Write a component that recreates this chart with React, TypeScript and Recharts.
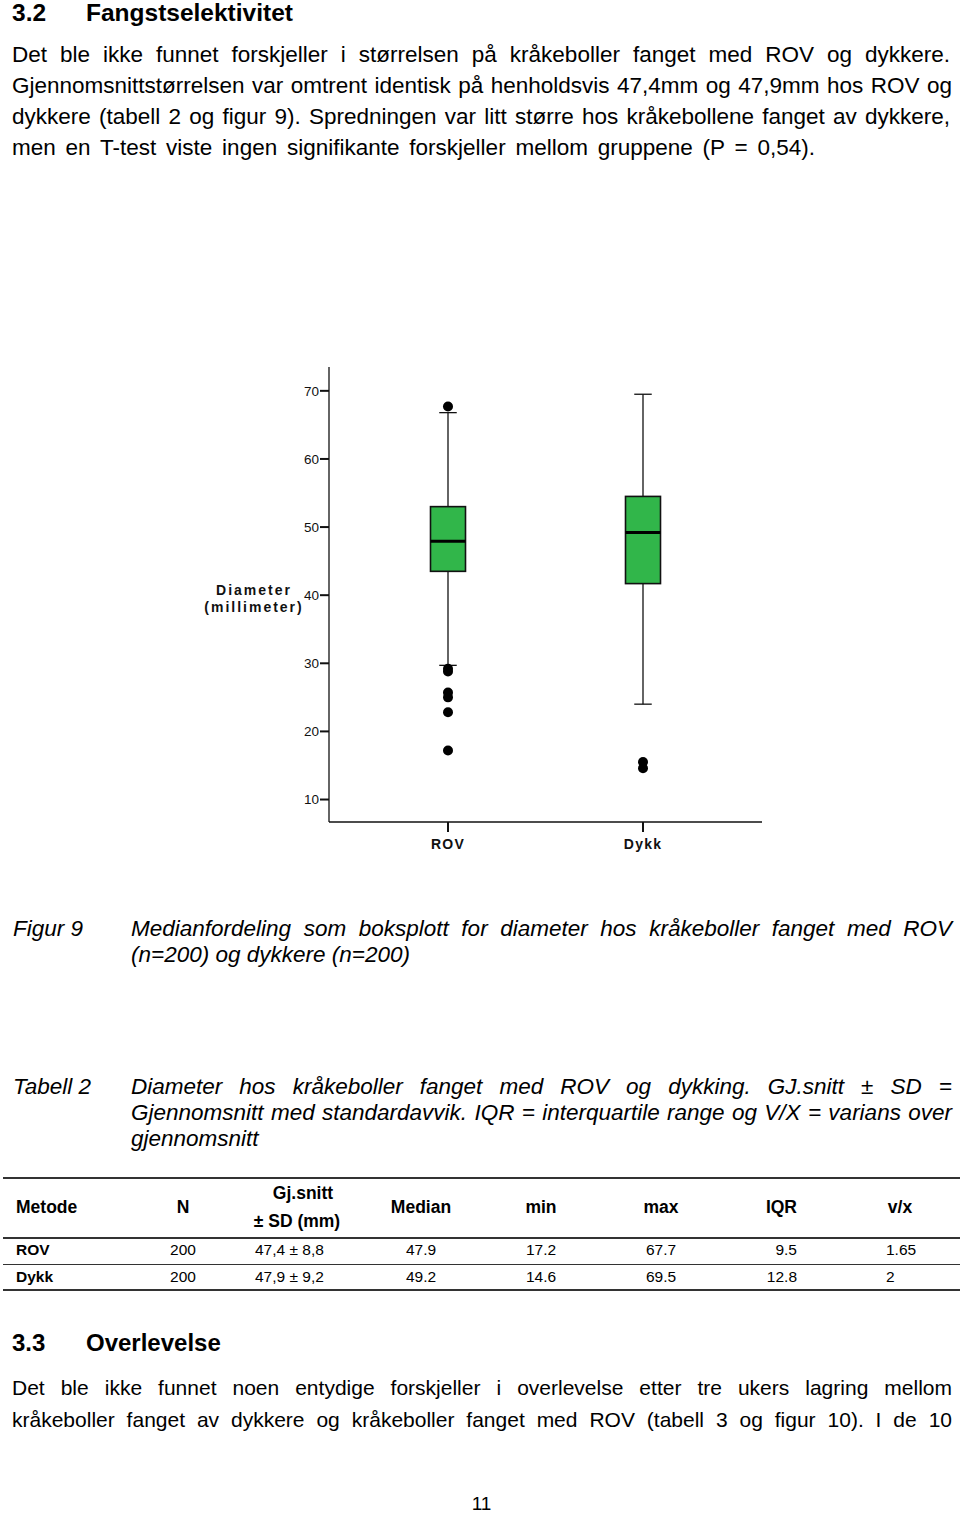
import React from 'react';
import {
  ComposedChart,
  Bar,
  Scatter,
  XAxis,
  YAxis,
  Label,
} from 'recharts';

// box plot values read from figur 9 (mm)
const categories = ['ROV', 'Dykk'];
const whiskerLow = [29.7, 24.0];
const q1 = [43.5, 41.7];
const median = [47.9, 49.2];
const q3 = [53.0, 54.5];
const whiskerHigh = [66.8, 69.5];

const rovOutliers = [67.7, 29.2, 28.8, 25.7, 25.0, 22.8, 17.2];
const dykkOutliers = [15.5, 14.6];

const yTicks = [10, 20, 30, 40, 50, 60, 70];

// tabell 2
const tableHeader = ['Metode', 'N', 'Gj.snitt', 'Median', 'min', 'max', 'IQR', 'v/x'];
const rovRow = ['ROV', '200', '47,4 ± 8,8', '47.9', '17.2', '67.7', '9.5', '1.65'];
const dykkRow = ['Dykk', '200', '47,9 ± 9,2', '49.2', '14.6', '69.5', '12.8', '2'];

const boxData = categories.map((name, i) => ({
  name,
  whiskerLow: whiskerLow[i],
  q1: q1[i],
  median: median[i],
  q3: q3[i],
  whiskerHigh: whiskerHigh[i],
}));

const outlierData = [
  ...rovOutliers.map((value) => ({ name: 'ROV', value })),
  ...dykkOutliers.map((value) => ({ name: 'Dykk', value })),
];

const GREEN = '#31b64a';
const FONT = '"Liberation Sans", Arial, Helvetica, sans-serif';

function BoxShape(props: any) {
  const { x, y, width, height, payload } = props;
  const lo = payload.whiskerLow;
  const hi = payload.whiskerHigh;
  // pixel position of a value, taken from the bar the y scale produced
  const py = (v: number) => y + ((hi - v) / (hi - lo)) * height;
  const cx = x + width / 2;
  const cap = width / 4;
  return (
    <g>
      <line x1={cx} x2={cx} y1={py(hi)} y2={py(payload.q3)} stroke="#111" strokeWidth={1.3} />
      <line x1={cx} x2={cx} y1={py(payload.q1)} y2={py(lo)} stroke="#111" strokeWidth={1.3} />
      <line x1={cx - cap} x2={cx + cap} y1={py(hi)} y2={py(hi)} stroke="#111" strokeWidth={1.3} />
      <line x1={cx - cap} x2={cx + cap} y1={py(lo)} y2={py(lo)} stroke="#111" strokeWidth={1.3} />
      <rect
        x={x}
        y={py(payload.q3)}
        width={width}
        height={py(payload.q1) - py(payload.q3)}
        fill={GREEN}
        stroke="#111"
        strokeWidth={1.6}
      />
      <line x1={x} x2={x + width} y1={py(payload.median)} y2={py(payload.median)} stroke="#000" strokeWidth={3} />
    </g>
  );
}

function AxisTitle(props: any) {
  const { viewBox } = props;
  const cx = viewBox.x + viewBox.width - 75;
  const cy = viewBox.y + viewBox.height / 2;
  return (
    <text
      x={cx}
      y={cy}
      textAnchor="middle"
      fontSize={14}
      fontWeight="bold"
      letterSpacing={2}
      fill="#111"
    >
      <tspan x={cx} dy={0}>Diameter</tspan>
      <tspan x={cx} dy={17}>(millimeter)</tspan>
    </text>
  );
}

function BoxPlot() {
  return (
    <ComposedChart
      width={600}
      height={520}
      data={boxData}
      margin={{ top: 17, right: 18, bottom: 0, left: 0 }}
    >
      <XAxis
        dataKey="name"
        type="category"
        allowDuplicatedCategory={false}
        padding={{ left: 21.5, right: 21.5 }}
        axisLine={{ stroke: '#111', strokeWidth: 1.3 }}
        tickLine={{ stroke: '#111', strokeWidth: 2 }}
        tickSize={10}
        tickMargin={7}
        height={48}
        tick={{ fontSize: 14, fontWeight: 'bold', fill: '#111', letterSpacing: 1.2 }}
      />
      <YAxis
        type="number"
        domain={[6.7, 73.5]}
        ticks={yTicks}
        allowDataOverflow
        width={149}
        axisLine={{ stroke: '#111', strokeWidth: 1.3 }}
        tickLine={{ stroke: '#111', strokeWidth: 2 }}
        tickSize={9}
        tickMargin={1}
        tick={{ fontSize: 13.5, fill: '#111' }}
      >
        <Label content={<AxisTitle />} />
      </YAxis>
      <Bar
        dataKey={(d: any) => [d.whiskerLow, d.whiskerHigh]}
        barSize={35}
        shape={<BoxShape />}
        isAnimationActive={false}
      />
      <Scatter
        data={outlierData}
        dataKey="value"
        fill="#000"
        isAnimationActive={false}
        shape={(p: any) => <circle cx={p.cx} cy={p.cy} r={5} fill="#000" />}
      />
    </ComposedChart>
  );
}

function TextLine({
  top,
  left,
  width,
  size,
  lh,
  text,
  bold,
  italic,
  justify,
  spacing,
}: {
  top: number;
  left: number;
  width?: number;
  size: number;
  lh: number;
  text: string;
  bold?: boolean;
  italic?: boolean;
  justify?: boolean;
  spacing?: number;
}) {
  return (
    <div
      style={{
        position: 'absolute',
        top,
        left,
        width,
        fontSize: size,
        lineHeight: `${lh}px`,
        fontWeight: bold ? 'bold' : 'normal',
        fontStyle: italic ? 'italic' : 'normal',
        textAlign: justify ? 'justify' : 'left',
        textAlignLast: justify ? 'justify' : 'auto',
        letterSpacing: spacing,
        whiteSpace: 'nowrap',
      }}
    >
      {text}
    </div>
  );
}

// table column anchors: [x, align]
const headerCols: Array<[number, 'l' | 'c' | 'r']> = [
  [16, 'l'], [183, 'c'], [301, 'c'], [421, 'c'], [541, 'c'], [661, 'c'], [797, 'r'], [900, 'c'],
];
const bodyCols: Array<[number, 'l' | 'c' | 'r']> = [
  [16, 'l'], [183, 'c'], [255, 'l'], [421, 'c'], [541, 'c'], [661, 'c'], [797, 'r'], [886, 'l'],
];

function Cell({ x, align, top, text, bold, size }: any) {
  const style: React.CSSProperties = {
    position: 'absolute',
    top,
    fontSize: size,
    lineHeight: '20px',
    fontWeight: bold ? 'bold' : 'normal',
    whiteSpace: 'nowrap',
  };
  if (align === 'l') {
    style.left = x;
  } else if (align === 'r') {
    style.right = 960 - x;
    style.textAlign = 'right';
  } else {
    style.left = x - 60;
    style.width = 120;
    style.textAlign = 'center';
  }
  return <div style={style}>{text}</div>;
}

function Rule({ top, h }: { top: number; h: number }) {
  return (
    <div style={{ position: 'absolute', left: 3, width: 957, top, height: h, background: '#333' }} />
  );
}

export default function App() {
  return (
    <div
      style={{
        position: 'absolute',
        left: 0,
        top: 0,
        width: 960,
        height: 1514,
        background: '#fff',
        color: '#000',
        fontFamily: FONT,
        overflow: 'hidden',
      }}
    >
      <TextLine top={1} left={12} size={24.5} lh={24} text="3.2" bold />
      <TextLine top={1} left={86} size={24.5} lh={24} text="Fangstselektivitet" bold />

      <TextLine top={39} left={12} width={938} size={22.5} lh={31} justify
        text="Det ble ikke funnet forskjeller i størrelsen på kråkeboller fanget med ROV og dykkere." />
      <TextLine top={70} left={12} width={940} size={22.5} lh={31} justify
        text="Gjennomsnittstørrelsen var omtrent identisk på henholdsvis 47,4mm og 47,9mm hos ROV og" />
      <TextLine top={101} left={12} width={938} size={22.5} lh={31} justify
        text="dykkere (tabell 2 og figur 9). Spredningen var litt større hos kråkebollene fanget av dykkere," />
      <TextLine top={132} left={12} width={803} size={22.5} lh={31} justify
        text="men en T-test viste ingen signifikante forskjeller mellom gruppene (P = 0,54)." />

      <div style={{ position: 'absolute', left: 180, top: 350 }}>
        <BoxPlot />
      </div>

      <TextLine top={916} left={13} size={22.5} lh={26} italic text="Figur 9" />
      <TextLine top={916} left={131} width={821} size={22.5} lh={26} italic justify
        text="Medianfordeling som boksplott for diameter hos kråkeboller fanget med ROV" />
      <TextLine top={942} left={131} size={22.5} lh={26} italic text="(n=200) og dykkere (n=200)" />

      <TextLine top={1074} left={13} size={22.5} lh={26} italic text="Tabell 2" />
      <TextLine top={1074} left={131} width={821} size={22.5} lh={26} italic justify
        text="Diameter hos kråkeboller fanget med ROV og dykking. GJ.snitt ± SD =" />
      <TextLine top={1100} left={131} width={821} size={22.5} lh={26} italic justify
        text="Gjennomsnitt med standardavvik. IQR = interquartile range og V/X = varians over" />
      <TextLine top={1126} left={131} size={22.5} lh={26} italic text="gjennomsnitt" />

      <Rule top={1177} h={2} />
      {tableHeader.map((t, i) => {
        const [x, a] = headerCols[i];
        if (t === 'Gj.snitt') {
          return (
            <React.Fragment key={t}>
              <Cell x={x + 2} align={a} top={1183} text="Gj.snitt" bold size={17.5} />
              <Cell x={x - 4} align={a} top={1211} text="± SD (mm)" bold size={17.5} />
            </React.Fragment>
          );
        }
        return <Cell key={t} x={x} align={a} top={1197} text={t} bold size={17.5} />;
      })}
      <Rule top={1237} h={1.5} />
      {rovRow.map((t, i) => {
        const [x, a] = bodyCols[i];
        return <Cell key={'r' + i} x={x} align={a} top={1240} text={t} bold={i === 0} size={15.5} />;
      })}
      <Rule top={1264} h={1} />
      {dykkRow.map((t, i) => {
        const [x, a] = bodyCols[i];
        return <Cell key={'d' + i} x={x} align={a} top={1267} text={t} bold={i === 0} size={15.5} />;
      })}
      <Rule top={1289} h={2} />

      <TextLine top={1328} left={12} size={24} lh={30} bold text="3.3" />
      <TextLine top={1328} left={86} size={24} lh={30} bold text="Overlevelse" />
      <TextLine top={1372} left={12} width={940} size={21} lh={32} justify
        text="Det ble ikke funnet noen entydige forskjeller i overlevelse etter tre ukers lagring mellom" />
      <TextLine top={1404} left={12} width={940} size={21} lh={32} justify
        text="kråkeboller fanget av dykkere og kråkeboller fanget med ROV (tabell 3 og figur 10). I de 10" />

      <div style={{ position: 'absolute', top: 1494, left: 0, width: 963, textAlign: 'center', fontSize: 19, lineHeight: '19px' }}>
        11
      </div>
    </div>
  );
}
